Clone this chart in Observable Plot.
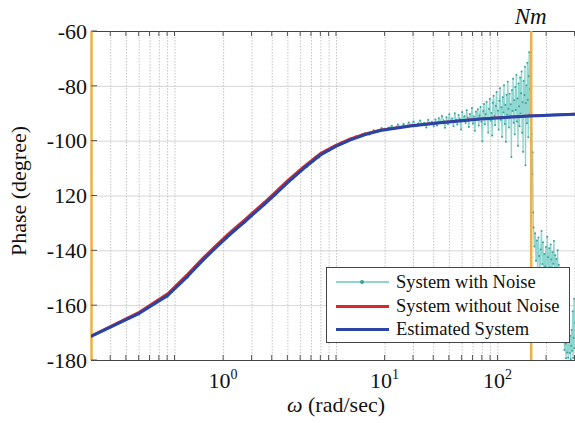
<!DOCTYPE html>
<html><head><meta charset="utf-8">
<script src="https://cdn.jsdelivr.net/npm/d3@7"></script>
<script src="https://cdn.jsdelivr.net/npm/@observablehq/plot@0.6"></script>
<style>
body{margin:0;background:#fff;}
#wrap{position:relative;width:575px;height:423px;font-family:"Liberation Serif",Tinos,"Times New Roman",Times,"Nimbus Roman","Nimbus Roman No9 L","DejaVu Serif","Noto Serif",FreeSerif,serif;}
#wrap svg{position:absolute;left:0;top:0;}
#legend{position:absolute;left:326px;top:267px;width:242px;height:74px;border:1px solid #444;background:#fff;}
.row{position:absolute;left:0;height:22px;font-size:18.5px;line-height:22px;white-space:nowrap;color:#111;}
.sw{position:absolute;left:9px;top:10px;width:53px;height:3px;}
.dot{position:absolute;left:33px;top:9px;width:4px;height:4px;border-radius:2px;background:#36a39c;}
.lab{position:absolute;left:69px;top:0;}
</style></head>
<body><div id="wrap"><div id="legend"></div></div>
<script>
// ---- data ----
const xDomain = [0.304, 302];
const yDomain = [-180, -60];
const yTicks = [-60, -80, -100, -120, -140, -160, -180];
const yTickLabels = ["-60", "-80", "-100", "120", "-140", "-160", "-180"];
const xTickPos = [2, 20, 100];
const xTickExp = ["0", "1", "2"];
const xGrid = [0.4,0.5,0.6,0.7,0.8,0.9,1,2,3,4,5,6,7,8,9,10,20,30,40,50,60,70,80,90,100,200,300];
const nmW = 160.6;
const seriesNames = ["System with Noise", "System without Noise", "Estimated System"];

const estW = [0.304, 0.6, 0.9, 1.2, 1.5, 1.8, 2.1, 2.4, 2.7, 3.0, 3.6, 4.0, 5.0, 6.3, 8.0, 9.9, 12.2, 15.1, 18.7, 28.7, 44, 78, 159, 302];
const estP = [-171.1, -162.8, -156.3, -149.2, -143.2, -138.7, -135.0, -132.0, -129.4, -127.0, -122.9, -120.4, -115.0, -109.8, -104.9, -101.9, -99.5, -97.6, -96.1, -94.5, -93.3, -91.9, -90.8, -90.2];
const trueP = [-170.9, -162.3, -155.6, -148.4, -142.4, -137.9, -134.2, -131.2, -128.6, -126.2, -122.1, -119.6, -114.2, -109.1, -104.3, -101.4, -99.1, -97.3, -95.9, -94.4, -93.2, -91.8, -90.7, -90.1];

const noiseW = [0.304,0.6,0.9,1.2,1.5,1.8,2.1,2.4,2.7,3.0,3.3,3.6,3.9,4.2,4.5,4.8,5.1,5.4,5.7,6.0,6.6,7.2,7.8,8.4,9.0,9.6,10.2,10.8,11.4,12.0,12.6,13.2,13.8,14.4,
 15,16,17,18,19,20,21,22,23,24,25,26,27,28,29,30,31,32,33,34,35,36,37,38,39,40,
 41,42,43,44,45,46,47,48,49,50,51,52,53,54,55,56,57,58,59,60,61,62,63,64,65,66,67,68,69,70,71,72,73,74,75,76,77,78,79,80,
 81,82,83,84,85,86,87,88,89,90,91,92,93,94,95,96,97,98,99,100,101,102,103,104,105,106,107,108,109,110,111,112,113,114,115,116,117,118,119,120,
 121,122,123,124,125,126,127,128,129,130,131,132,133,134,135,136,137,138,139,140,141,142,143,144,145,146,147,148,149,150,151,152,153,154,155,156,157,158,159,160,
 162,163,164,165,166,168,170,172,174,176,178,180,182,184,186,188,190,192,194,196,198,200,202,204,206,208,210,212,214,216,218,220,222,224,226,228,230,232,234,236,238,240,
 242,244,246,248,250,252,254,256,258,260,262,264,266,268,270,272,274,276,278,280,282,284,286,288,290,292,294,296,298,300,302];
const noiseP = [-171.4,-163.2,-156.8,-149.7,-143.5,-139.1,-135.4,-132.3,-129.8,-127.3,-124.6,-123.2,-121.0,-119.6,-117.5,-116.3,-114.8,-113.6,-112.2,-111.2,-109.3,-107.4,-106.0,-104.4,-103.5,-102.1,-101.7,-100.5,-100.3,-99.1,-99.1,-98.2,-98.5,-97.5,
 -97.1,-97.6,-96.0,-96.6,-95.2,-96.0,-95.1,-94.4,-95.5,-93.9,-94.8,-93.7,-94.9,-93.2,-94.3,-92.8,-94.6,-93.6,-92.5,-94.1,-93.3,-95.0,-92.2,-93.8,-92.9,-94.6,
 -92.1,-94.3,-91.6,-93.0,-90.8,-92.5,-95.1,-91.3,-93.7,-90.2,-92.9,-91.7,-94.6,-89.8,-92.2,-93.9,-90.5,-91.9,-95.7,-89.4,-92.6,-90.9,-93.4,-88.7,-91.5,-94.8,-90.1,-92.3,-87.9,-93.6,-91.0,-96.2,-89.3,-92.0,-88.4,-94.3,-90.6,-87.5,-92.9,-99.9,
 -89.1,-86.4,-93.8,-90.2,-85.7,-91.9,-96.8,-88.3,-84.6,-92.5,-89.7,-97.9,-86.0,-83.4,-90.8,-94.1,-87.2,-82.1,-91.6,-88.9,-95.7,-85.3,-80.7,-92.2,-87.6,-98.4,-84.0,-89.5,-79.6,-93.7,-86.8,-100.2,-83.1,-90.4,-78.3,-88.2,-95.0,-82.7,-91.3,-86.5,
 -105.8,-81.4,-89.0,-77.2,-93.3,-85.1,-97.5,-80.2,-88.6,-75.9,-92.8,-84.4,-101.7,-79.0,-87.3,-94.6,-76.8,-89.9,-82.5,-74.6,-96.9,-85.8,-103.9,-78.1,-90.7,-83.2,-72.9,-108.8,-86.1,-79.7,-93.5,-71.4,-84.9,-98.6,-76.3,-67.6,-90.3,-81.0,-95.2,-74.8,
 -97.5,-112.0,-104.0,-126.0,-131.5,-138.4,-133.6,-143.6,-136.2,-146.8,-135.1,-141.9,-148.7,-139.5,-132.8,-144.8,-136.9,-150.3,-141.2,-145.7,-138.6,-147.9,-134.9,-142.3,-151.4,-139.1,-146.0,-137.7,-143.2,-152.0,-140.5,-144.7,-136.4,-148.8,-141.6,-150.9,-143.0,-147.3,-139.8,-151.8,-145.1,-153.6,
 -158.9,-149.5,-163.8,-157.2,-166.3,-161.0,-171.5,-164.7,-176.2,-168.0,-173.9,-179.2,-170.4,-177.1,-167.8,-179.0,-172.6,-165.3,-177.3,-171.0,-179.5,-174.6,-168.9,-176.4,-162.0,-179.1,-171.7,-157.5,-175.5,-166.2,-158.5];

// ---- tables ----
const est = estW.map((w, i) => ({w, p: estP[i]}));
const tru = estW.map((w, i) => ({w, p: trueP[i]}));
const noisy = noiseW.map((w, i) => ({w, p: noiseP[i]}));

const colNoiseLine = "#8fd5d0", colNoiseDot = "#38a59e", colRed = "#d9282b", colBlue = "#2a44a6", colOrange = "#f0b044";
const fontFam = "'Liberation Serif', Tinos, 'Times New Roman', Times, 'Nimbus Roman', 'Nimbus Roman No9 L', 'DejaVu Serif', 'Noto Serif', FreeSerif, serif";

const plot = Plot.plot({
  width: 575, height: 423,
  marginTop: 31, marginBottom: 63, marginLeft: 91, marginRight: 0,
  style: {fontFamily: fontFam, background: "white"},
  x: {type: "log", domain: xDomain, axis: null},
  y: {domain: yDomain, axis: null},
  marks: [
    Plot.ruleY(yTicks, {stroke: "#d6d6d6", strokeWidth: 1}),
    Plot.ruleX(xGrid, {stroke: "#c4c4c4", strokeWidth: 1, strokeDasharray: "1.5,1.5"}),
    Plot.ruleY([yDomain[1]], {stroke: "#444", strokeWidth: 1.2}),
    Plot.ruleY([yDomain[0]], {stroke: "#444", strokeWidth: 1.2}),
    Plot.line(noisy, {x: "w", y: "p", stroke: colNoiseLine, strokeWidth: 1.3, clip: true}),
    Plot.dot(noisy, {x: "w", y: "p", r: 1.0, fill: colNoiseDot, stroke: null, clip: true}),
    Plot.ruleX([xDomain[0], nmW], {stroke: colOrange, strokeWidth: 2.5}),
    Plot.line(tru, {x: "w", y: "p", stroke: colRed, strokeWidth: 2.4, clip: true}),
    Plot.line(est, {x: "w", y: "p", stroke: colBlue, strokeWidth: 3, clip: true})
  ]
});

document.getElementById("wrap").prepend(plot);
const svgSel = d3.select(plot);
const sx = plot.scale("x"), sy = plot.scale("y");
const yTop = sy.apply(yDomain[1]), yBot = sy.apply(yDomain[0]);
const xLeft = sx.apply(xDomain[0]);

// inward tick marks
xGrid.forEach(v => {
  const X = sx.apply(v);
  svgSel.append("line").attr("x1", X).attr("x2", X).attr("y1", yTop).attr("y2", yTop + 5).attr("stroke", "#555");
  svgSel.append("line").attr("x1", X).attr("x2", X).attr("y1", yBot).attr("y2", yBot - 5).attr("stroke", "#555");
});
yTicks.forEach(v => {
  const Y = sy.apply(v);
  svgSel.append("line").attr("x1", xLeft).attr("x2", xLeft + 6).attr("y1", Y).attr("y2", Y).attr("stroke", "#555");
});

// y tick labels
yTicks.forEach((v, i) => {
  svgSel.append("text").attr("x", xLeft - 4).attr("y", sy.apply(v)).attr("dy", "0.35em")
    .attr("text-anchor", "end").style("font-family", fontFam).attr("font-size", 22).attr("fill", "#111")
    .text(yTickLabels[i]);
});
// x tick labels
xTickPos.forEach((v, i) => {
  const t = svgSel.append("text").attr("x", sx.apply(v)).attr("y", 388)
    .attr("text-anchor", "middle").style("font-family", fontFam).attr("font-size", 22).attr("fill", "#111");
  t.append("tspan").text("10");
  t.append("tspan").attr("dy", -9).attr("font-size", 14).text(xTickExp[i]);
});
// axis titles
const xl = svgSel.append("text").attr("x", 336).attr("y", 412).attr("text-anchor", "middle")
  .style("font-family", fontFam).attr("font-size", 22).attr("fill", "#111");
xl.append("tspan").attr("font-style", "italic").text("ω");
xl.append("tspan").text(" (rad/sec)");
svgSel.append("text").attr("transform", "translate(26,191) rotate(-90)").attr("text-anchor", "middle")
  .style("font-family", fontFam).attr("font-size", 22).attr("fill", "#111").text("Phase (degree)");
svgSel.append("text").attr("x", sx.apply(nmW)).attr("y", 24).attr("text-anchor", "middle")
  .style("font-family", fontFam).attr("font-size", 23).attr("font-style", "italic").attr("fill", "#111").text("Nm");

// legend
const legendEl = document.getElementById("legend");
const swCols = [colNoiseLine, colRed, colBlue];
seriesNames.forEach((name, i) => {
  const row = document.createElement("div");
  row.className = "row";
  row.style.top = (3 + i * 23.5) + "px";
  row.style.width = "240px";
  row.innerHTML = `<div class="sw" style="background:${swCols[i]};height:${i === 0 ? 2 : 3}px"></div>` +
    (i === 0 ? `<div class="dot"></div>` : "") + `<span class="lab">${name}</span>`;
  legendEl.appendChild(row);
});
</script>
</body></html>
